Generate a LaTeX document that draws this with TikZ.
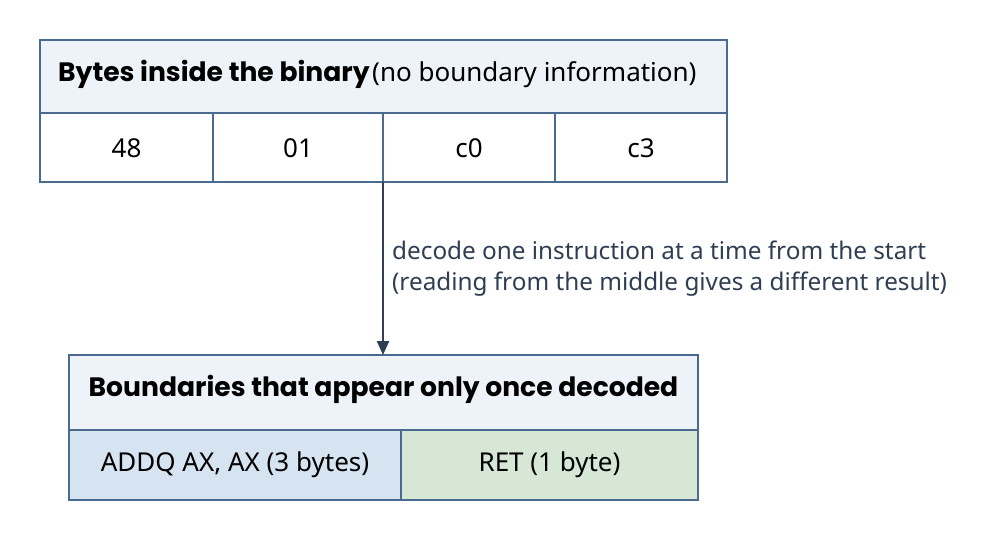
\documentclass[tikz,border=0pt]{standalone}
\usepackage{fontspec}
\setmainfont{Noto Sans}
\newfontfamily\hfont{Poppins}
\usetikzlibrary{arrows.meta}
\definecolor{bd}{HTML}{4A6A8F}
\definecolor{hd}{HTML}{EEF2F9}
\definecolor{bl}{HTML}{D6E4F1}
\definecolor{gr}{HTML}{D6E8D5}
\definecolor{ar}{HTML}{2F3E52}
\begin{document}
\begin{tikzpicture}[x=1pt,y=-1pt,
  box/.style={draw=bd,line width=1.3pt},
  txt/.style={font=\fontsize{26}{30}\selectfont,inner sep=0},
  hdr/.style={font=\hfont\bfseries\fontsize{26.6}{30}\selectfont,inner sep=0}]
\useasboundingbox (0,0) rectangle (998,540);
\fill[white] (0,0) rectangle (998,540);
% top
\filldraw[box,fill=hd] (40,40) rectangle (727,113);
\filldraw[box,fill=white] (40,113) rectangle (213,182);
\filldraw[box,fill=white] (213,113) rectangle (383,182);
\filldraw[box,fill=white] (383,113) rectangle (555,182);
\filldraw[box,fill=white] (555,113) rectangle (727,182);
\node[anchor=base west,inner sep=0] (h1) at (58,82) {{\hfont\bfseries\fontsize{26.6}{30}\selectfont Bytes inside the binary}\ {\fontsize{26}{30}\selectfont(no boundary information)}};
\node[txt] (b1) at (126.5,148) {48};
\node[txt] (b2) at (298,148) {01};
\node[txt] (b3) at (469,148) {c0};
\node[txt] (b4) at (641,148) {c3};
% bottom
\filldraw[box,fill=hd] (69,355) rectangle (698,430);
\filldraw[box,fill=bl] (69,430) rectangle (401,500);
\filldraw[box,fill=gr] (401,430) rectangle (698,500);
\node[hdr] (h2) at (383.5,389) {Boundaries that appear only once decoded};
\node[txt] (c1) at (235,465) {ADDQ AX, AX (3 bytes)};
\node[txt] (c2) at (549.5,465) {RET (1 byte)};
\coordinate (s) at (383,182);
\coordinate (e) at (383,355);
\draw[ar,line width=2.2pt,-{Triangle[length=14pt,width=12pt]}] (s) -- (e);
\node[anchor=west,align=left,font=\fontsize{24.3}{31}\selectfont,inner sep=0,text=ar] (lab) at (392,268.5) {decode one instruction at a time from the start\\(reading from the middle gives a different result)};
\end{tikzpicture}
\end{document}
